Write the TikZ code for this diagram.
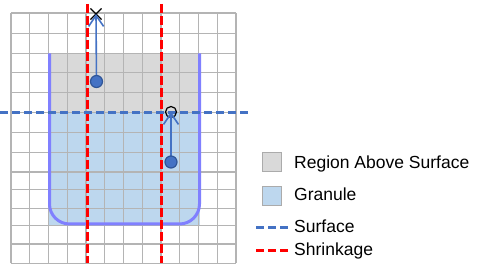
\documentclass[tikz,border=0pt]{standalone}
\usepackage{fontspec}
\setmainfont{Liberation Sans}
\usetikzlibrary{arrows.meta,shapes.misc}
\definecolor{grayfill}{HTML}{D9D9D9}
\definecolor{bluefill}{HTML}{BDD7EE}
\definecolor{gridcol}{HTML}{B4B4B4}
\definecolor{outlinecol}{HTML}{8080FF}
\definecolor{surfcol}{HTML}{4472C4}
\definecolor{dotedge}{HTML}{2F5597}
\definecolor{legedge}{HTML}{ABABAB}
\tikzset{
  gridline/.style={draw=gridcol, line width=1.3pt},
  granoutline/.style={draw=outlinecol, line width=3pt, rounded corners=20pt},
  shrinkline/.style={draw=red, line width=3pt, dash pattern=on 9pt off 3pt},
  surfline/.style={draw=surfcol, line width=3pt, dash pattern=on 8pt off 4pt},
  dotnode/.style={circle, fill=surfcol, draw=dotedge, line width=1.2pt, minimum size=12pt, inner sep=0pt},
  xmark/.style={cross out, draw=black, line width=1.1pt, minimum size=10pt, inner sep=0pt},
  omark/.style={circle, draw=black, line width=1.2pt, minimum size=11pt, inner sep=0pt},
  movearrow/.style={draw=surfcol, line width=1.6pt, -{Straight Barb[length=11pt,width=15pt,line width=1.6pt]}},
  legbox/.style={draw=legedge, line width=1.3pt, minimum size=19pt, inner sep=0pt},
  legtext/.style={font=\fontsize{17.5}{20}\selectfont, inner sep=0pt, anchor=base west},
}
\begin{document}
\begin{tikzpicture}[x=1pt,y=-1pt]
\useasboundingbox (0,0) rectangle (498,272);
% fills
\fill[grayfill] (49,53.3) rectangle (199.5,112.7);
\fill[bluefill] (49,112.7) rectangle (199.5,225.3);
% grid
\foreach \i in {0,...,12}{
  \draw[gridline] ({11+18.75*\i},13) -- ({11+18.75*\i},263.3);
}
\foreach \yy in {13,33.3,53.3,72.7,92.7,112.7,132.7,152.7,172,189.3,208.7,225.3,244,263.3}{
  \draw[gridline] (11,\yy) -- (236,\yy);
}
% granule outline
\draw[granoutline] (49.5,53.3) -- (49.5,224) -- (199.5,224) -- (199.5,53.3);
% shrinkage lines
\coordinate (s1a) at (87.3,4);
\coordinate (s1b) at (87.3,263.3);
\coordinate (s2a) at (161.7,4);
\coordinate (s2b) at (161.7,263.3);
\draw[shrinkline] (s1a) -- (s1b);
\draw[shrinkline] (s2a) -- (s2b);
% surface
\coordinate (sfa) at (0,112.5);
\coordinate (sfb) at (248,112.5);
\draw[surfline] (sfa) -- (sfb);
% particles
\node[xmark] (m1) at (96,14) {};
\node[omark] (m2) at (171,112) {};
\draw[movearrow] (96.5,81.5) -- (m1.center);
\draw[movearrow] (171,162) -- (m2.center);
\node[dotnode] (d1) at (96.5,81.5) {};
\node[dotnode] (d2) at (171,162) {};
% legend
\node[legbox, fill=grayfill] (lb1) at (272.3,162) {};
\node[legtext] (lt1) at (294,168.3) {Region Above Surface};
\node[legbox, fill=bluefill] (lb2) at (272.3,196) {};
\node[legtext] (lt2) at (294,201) {Granule};
\coordinate (ls1a) at (256,227.3);
\coordinate (ls1b) at (288,227.3);
\draw[surfline] (ls1a) -- (ls1b);
\node[legtext] (lt3) at (294,232.7) {Surface};
\coordinate (ls2a) at (256,250.7);
\coordinate (ls2b) at (288,250.7);
\draw[shrinkline, dash pattern=on 8pt off 4pt] (ls2a) -- (ls2b);
\node[legtext] (lt4) at (294,256) {Shrinkage};
\end{tikzpicture}
\end{document}
